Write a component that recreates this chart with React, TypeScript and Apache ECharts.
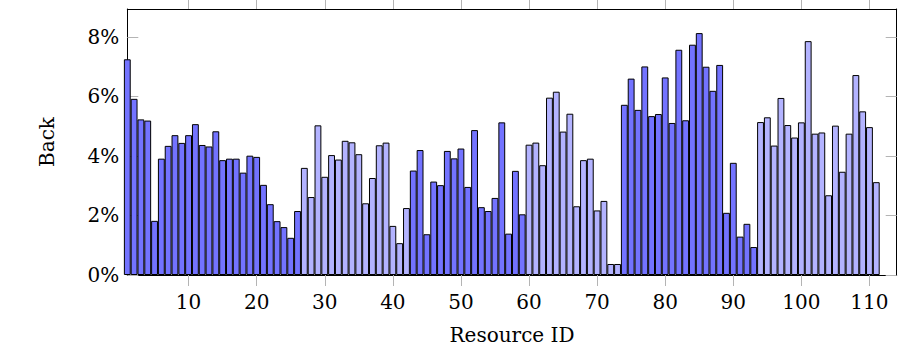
import React, { useEffect, useRef } from "react";
import * as echarts from "echarts";

// Back share (%) per resource ID 1..111
const backValues: number[] = [
  7.25, 5.92, 5.23, 5.19, 1.82, 3.91, 4.34, 4.70, 4.44, 4.70,
  5.07, 4.37, 4.32, 4.83, 3.86, 3.91, 3.91, 3.44, 4.01, 3.97,
  3.03, 2.38, 1.81, 1.61, 1.25, 2.15, 3.60, 2.62, 5.03, 3.30,
  4.03, 3.88, 4.51, 4.46, 4.06, 2.41, 3.26, 4.36, 4.45, 1.65,
  1.07, 2.25, 3.51, 4.20, 1.37, 3.14, 3.02, 4.17, 3.92, 4.25,
  2.96, 4.87, 2.28, 2.15, 2.59, 5.13, 1.39, 3.50, 2.04, 4.38,
  4.45, 3.69, 5.96, 6.16, 4.82, 5.42, 2.31, 3.86, 3.91, 2.17,
  2.49, 0.37, 0.37, 5.72, 6.60, 5.55, 7.01, 5.34, 5.41, 6.64,
  5.11, 7.57, 5.20, 7.74, 8.13, 7.00, 6.19, 7.06, 2.09, 3.77,
  1.29, 1.72, 0.94, 5.14, 5.30, 4.35, 5.95, 5.04, 4.62, 5.13,
  7.86, 4.75, 4.79, 2.68, 5.02, 3.47, 4.75, 6.72, 5.50, 4.97,
  3.12,
];

// ID ranges drawn in the darker colour; the rest are lighter
const darkRanges: [number, number][] = [
  [1, 26],
  [43, 59],
  [74, 93],
];

const xTickValues = [10, 20, 30, 40, 50, 60, 70, 80, 90, 100, 110];
const yTickValues = [0, 2, 4, 6, 8];

const X_MIN = 1;
const X_MAX = 114;
const Y_MIN = 0;
const Y_MAX = 8.94;

const DARK = "#7373ff";
const LIGHT = "#b3b3ff";
const TICK = "#b4b4b4";
const FONT = "DejaVu Serif";

function isDark(id: number) {
  return darkRanges.some(([a, b]) => id >= a && id <= b);
}

export default function App() {
  const ref = useRef<HTMLDivElement>(null);

  useEffect(() => {
    if (!ref.current) return;
    const chart = echarts.init(ref.current, null, { renderer: "svg" });

    const data = backValues.map((v, i) => ({
      value: [i + 1, v],
      itemStyle: { color: isDark(i + 1) ? DARK : LIGHT },
    }));

    const labelStyle = { color: "#000", fontFamily: FONT, fontSize: 20 };

    chart.setOption({
      animation: false,
      grid: { left: 127.3, right: 4.3, top: 9, bottom: 79, containLabel: false },
      xAxis: [
        {
          type: "value",
          position: "bottom",
          min: X_MIN,
          max: X_MAX,
          name: "Resource ID",
          nameLocation: "middle",
          nameGap: 50,
          nameTextStyle: { ...labelStyle },
          axisLine: { show: true, onZero: false, lineStyle: { color: "#000", width: 1 } },
          axisTick: {
            show: true,
            inside: false,
            length: 11,
            customValues: xTickValues,
            lineStyle: { color: TICK, width: 1 },
          },
          axisLabel: {
            show: true,
            customValues: xTickValues,
            margin: 17,
            ...labelStyle,
          },
          splitLine: { show: false },
        },
        {
          type: "value",
          position: "top",
          min: X_MIN,
          max: X_MAX,
          axisLine: { show: true, onZero: false, lineStyle: { color: "#000", width: 1 } },
          axisTick: {
            show: true,
            inside: false,
            length: 11,
            customValues: xTickValues,
            lineStyle: { color: TICK, width: 1 },
          },
          axisLabel: { show: false },
          splitLine: { show: false },
        },
      ],
      yAxis: [
        {
          type: "value",
          position: "left",
          min: Y_MIN,
          max: Y_MAX,
          name: "Back",
          nameLocation: "middle",
          nameGap: 70,
          nameRotate: 90,
          nameTextStyle: { ...labelStyle },
          axisLine: { show: true, onZero: false, lineStyle: { color: "#000", width: 1 } },
          axisTick: {
            show: true,
            inside: true,
            length: 11,
            customValues: yTickValues,
            lineStyle: { color: TICK, width: 1 },
          },
          axisLabel: {
            show: true,
            customValues: yTickValues,
            margin: 8,
            formatter: (v: number) => `${v}%`,
            ...labelStyle,
          },
          splitLine: { show: false },
        },
        {
          type: "value",
          position: "right",
          min: Y_MIN,
          max: Y_MAX,
          axisLine: { show: true, onZero: false, lineStyle: { color: "#000", width: 1 } },
          axisTick: {
            show: true,
            inside: true,
            length: 11,
            customValues: yTickValues,
            lineStyle: { color: TICK, width: 1 },
          },
          axisLabel: { show: false },
          splitLine: { show: false },
        },
      ],
      series: [
        {
          type: "bar",
          xAxisIndex: 0,
          yAxisIndex: 0,
          data,
          barWidth: 6.85,
          clip: true,
          itemStyle: { borderColor: "#000", borderWidth: 1 },
        },
      ],
    });

    return () => chart.dispose();
  }, []);

  return (
    <div
      ref={ref}
      style={{ position: "absolute", left: 0, top: 0, width: 901, height: 354 }}
    />
  );
}
